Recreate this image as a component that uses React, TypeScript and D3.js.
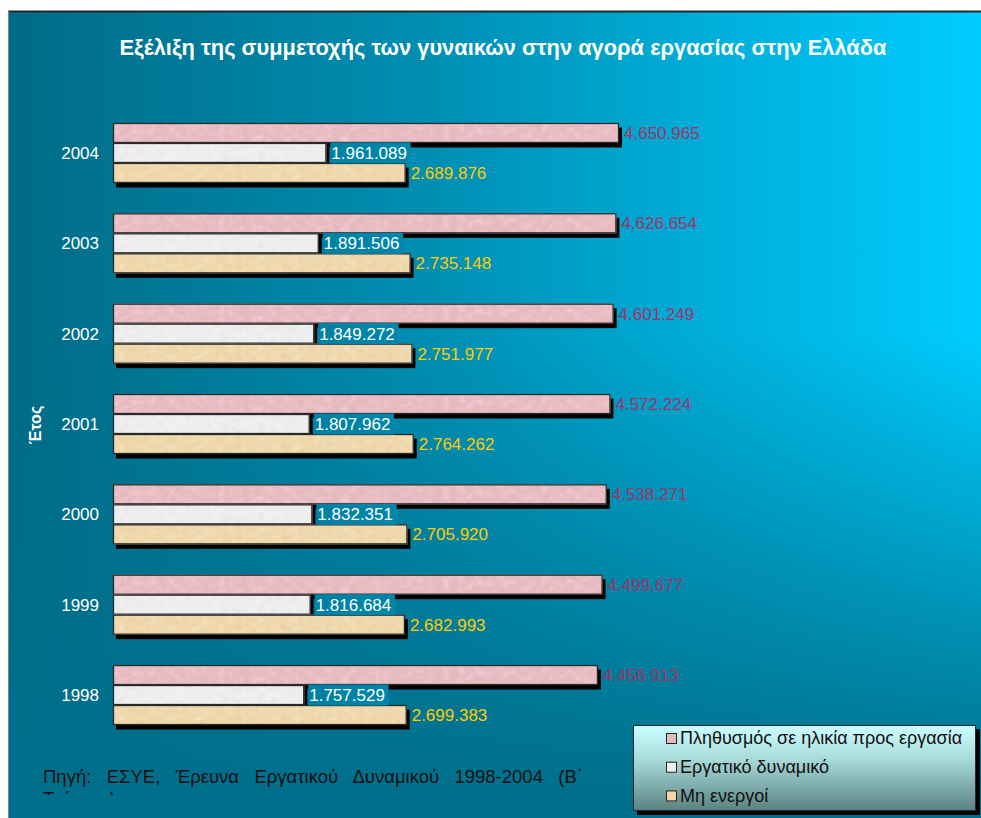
import React, { useLayoutEffect, useRef, useState } from "react";
import * as d3 from "d3";

const years = ["2004", "2003", "2002", "2001", "2000", "1999", "1998"];
const population = [4650965, 4626654, 4601249, 4572224, 4538271, 4499677, 4456913];
const labourForce = [1961089, 1891506, 1849272, 1807962, 1832351, 1816684, 1757529];
const inactive = [2689876, 2735148, 2751977, 2764262, 2705920, 2682993, 2699383];
const seriesNames = ["Πληθυσμός σε ηλικία προς εργασία", "Εργατικό δυναμικό", "Μη ενεργοί"];
const seriesFill = ["#e8bac1", "#eeeeee", "#efd7a9"];
const labelFill = ["#a0336a", "#ffffff", "#ffcc00"];
const title = "Εξέλιξη της συμμετοχής των γυναικών στην αγορά εργασίας στην Ελλάδα";
const yTitle = "Έτος";
const sourceLine1 = "Πηγή: ΕΣΥΕ, Έρευνα Εργατικού Δυναμικού 1998-2004 (Β΄";
const sourceLine2 = "Τρίμηνο)";

const W = 981;
const H = 818;
const FONT = "'Liberation Sans', Arial, sans-serif";

const fmt = (v: number) => d3.format(",")(v).replace(/,/g, ".");

export default function App() {
  const series = [population, labourForce, inactive];
  const x = d3.scaleLinear().domain([0, 5000000]).range([113, 657]);
  const y = d3.scaleBand<string>().domain(years).range([107.8, 740.2]).paddingInner(0.336).paddingOuter(0.168);
  const ySub = d3.scaleBand<number>().domain([0, 1, 2]).range([0, y.bandwidth()]);
  const bh = ySub.bandwidth();

  const srcRef = useRef<SVGTextElement>(null);
  const [wordSpacing, setWordSpacing] = useState(0);
  useLayoutEffect(() => {
    if (srcRef.current && wordSpacing === 0) {
      const natural = srcRef.current.getComputedTextLength();
      const spaces = sourceLine1.split(" ").length - 1;
      setWordSpacing(Math.max(0.01, (540 - natural) / spaces));
    }
  }, [wordSpacing]);

  return (
    <svg width={W} height={H} style={{ position: "absolute", left: 0, top: 0, fontFamily: FONT }}>
      <defs>
        <linearGradient id="bgH" x1="0" y1="0" x2="1" y2="0">
          <stop offset="0" stopColor="#006b86" />
          <stop offset="0.45" stopColor="#0090b5" />
          <stop offset="1" stopColor="#00cdff" />
        </linearGradient>
        <linearGradient id="bgV" x1="0" y1="0" x2="0" y2="1">
          <stop offset="0" stopColor="#006d88" stopOpacity="0" />
          <stop offset="0.4" stopColor="#006d88" stopOpacity="0" />
          <stop offset="0.97" stopColor="#006f8b" stopOpacity="1" />
        </linearGradient>
        <linearGradient id="bgHu" gradientUnits="userSpaceOnUse" x1="8" y1="0" x2="981" y2="0">
          <stop offset="0" stopColor="#006b86" />
          <stop offset="0.45" stopColor="#0090b5" />
          <stop offset="1" stopColor="#00cdff" />
        </linearGradient>
        <linearGradient id="legG" x1="0" y1="0" x2="0" y2="1">
          <stop offset="0" stopColor="#ccffff" />
          <stop offset="0.4" stopColor="#a8dada" />
          <stop offset="1" stopColor="#5a8282" />
        </linearGradient>
        <filter id="marble" x="0" y="0" width="1" height="1">
          <feTurbulence type="fractalNoise" baseFrequency="0.12 0.16" numOctaves="3" seed="4" result="n" />
          <feColorMatrix in="n" type="matrix" values="0 0 0 0 1  0 0 0 0 1  0 0 0 0 1  0 0 0 -1.6 0.95" result="w" />
          <feComposite in="w" in2="SourceAlpha" operator="in" />
        </filter>
        <filter id="marbleDark" x="0" y="0" width="1" height="1">
          <feTurbulence type="fractalNoise" baseFrequency="0.14 0.18" numOctaves="2" seed="9" result="n" />
          <feColorMatrix in="n" type="matrix" values="0 0 0 0 0.4  0 0 0 0 0.35  0 0 0 0 0.3  0 0 0 -2.0 1.1" result="w" />
          <feComposite in="w" in2="SourceAlpha" operator="in" />
        </filter>
        <clipPath id="srcClip">
          <rect x={30} y={760} width={600} height={35} />
        </clipPath>
      </defs>

      {/* background */}
      <rect x={8} y={11} width={W - 8} height={H - 11} fill="url(#bgH)" />
      <rect x={8} y={11} width={W - 8} height={H - 11} fill="url(#bgV)" />
      <line x1={8} y1={11.5} x2={W} y2={11.5} stroke="#1e2a2e" strokeWidth={2} />
      <line x1={8.5} y1={11} x2={8.5} y2={H} stroke="#7a8a8e" strokeWidth={1} />

      {/* title */}
      <text x={503} y={55} textAnchor="middle" fill="#ffffff" fontWeight="bold" fontSize={21.5} textLength={767} lengthAdjust="spacingAndGlyphs">
        {title}
      </text>

      {/* bars */}
      {years.map((yr, i) => (
        <g key={yr} transform={`translate(0,${y(yr)})`}>
          {series.map((s, k) => {
            const y0 = ySub(k) as number;
            const w = x(s[i]) - x(0);
            return (
              <g key={k}>
                <rect x={x(0) + 3} y={y0 + 4.5} width={w} height={bh} fill="#000" />
                <rect x={x(0)} y={y0} width={w} height={bh} fill={seriesFill[k]} />
                <rect x={x(0)} y={y0} width={w} height={bh} fill={seriesFill[k]} filter="url(#marble)" opacity={0.35} />
                <rect x={x(0)} y={y0} width={w} height={bh} fill={seriesFill[k]} filter="url(#marbleDark)" opacity={0.1} />
                <rect x={x(0) + 0.5} y={y0 + 0.5} width={w - 1} height={bh - 1} fill="none" stroke="#2a2a2a" strokeWidth={1.3} />
              </g>
            );
          })}
          {series.map((s, k) => {
            const y0 = ySub(k) as number;
            const tx = x(s[i]) + 5;
            const label = fmt(s[i]);
            return (
              <g key={"l" + k}>
                {k === 1 && (
                  <>
                    <rect x={tx - 1} y={y0 - 0.5} width={label.length * 8.7 + 2} height={bh + 1} fill="url(#bgHu)" />
                    <rect x={tx - 1} y={y0 - 0.5} width={label.length * 8.7 + 2} height={bh + 1} fill="#00506e" opacity={0.08} />
                  </>
                )}
                <text x={tx} y={y0 + bh / 2} dy="0.36em" fill={labelFill[k]} fontSize={17}>
                  {label}
                </text>
              </g>
            );
          })}
          <text x={99} y={y.bandwidth() / 2} dy="0.36em" textAnchor="end" fill="#ffffff" fontSize={17}>
            {yr}
          </text>
        </g>
      ))}

      {/* y title */}
      <text transform="translate(41,425) rotate(-90)" textAnchor="middle" fill="#ffffff" fontWeight="bold" fontSize={16}>
        {yTitle}
      </text>

      {/* source */}
      <g clipPath="url(#srcClip)" fill="#111" fontSize={18.5}>
        <text ref={srcRef} x={43} y={783} style={{ wordSpacing: `${wordSpacing}px` }}>
          {sourceLine1}
        </text>
        <text x={43} y={805}>
          {sourceLine2}
        </text>
      </g>

      {/* legend */}
      <rect x={637} y={729} width={343} height={86} fill="#000" />
      <rect x={633.5} y={725.5} width={342} height={85} fill="url(#legG)" stroke="#2a2a2a" strokeWidth={1} />
      {seriesNames.map((n, k) => {
        const cy = 738 + k * 28.7;
        return (
          <g key={n}>
            <rect x={666.5} y={cy - 4.5} width={10} height={10} fill={seriesFill[k]} stroke="#222" strokeWidth={1} />
            <text x={680} y={cy} dy="0.36em" fill="#111" fontSize={18}>
              {n}
            </text>
          </g>
        );
      })}
    </svg>
  );
}
